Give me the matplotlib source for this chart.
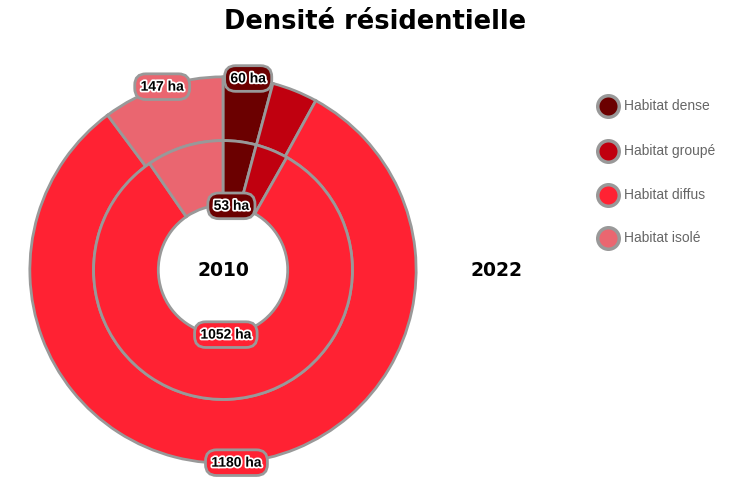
import matplotlib
matplotlib.use('Agg')
import matplotlib.pyplot as plt
import matplotlib.patheffects as pe
import numpy as np
from matplotlib.lines import Line2D

categories = ['Habitat dense', 'Habitat groupé', 'Habitat diffus', 'Habitat isolé']
colors = ['#6b0000', '#c0000f', '#ff2233', '#ea6670']
values_2010 = [53, 52, 1052, 123]
values_2022 = [60, 55, 1180, 147]
# which segments carry a value label
shown_2010 = [True, False, True, False]
shown_2022 = [True, False, True, True]
years = ['2010', '2022']

EDGE = '#999999'
W, H = 756, 480


def mid_angles(values):
    total = float(sum(values))
    cum = np.cumsum([0] + list(values)) / total * 360
    mids = (cum[:-1] + cum[1:]) / 2
    # start at top, clockwise
    return np.deg2rad(90 - mids)


def add_labels(ax, values, shown, radius):
    for v, ang, c, s in zip(values, mid_angles(values), colors, shown):
        if not s:
            continue
        x, y = radius * np.cos(ang), radius * np.sin(ang)
        t = ax.text(x, y, '{} ha'.format(v), ha='center', va='center',
                    fontsize=10, fontweight='bold', color='black',
                    family='Liberation Sans',
                    bbox=dict(boxstyle='round,pad=0.42,rounding_size=0.8',
                              fc=c, ec=EDGE, lw=2))
        t.set_path_effects([pe.withStroke(linewidth=2.5, foreground='white')])


def main():
    fig = plt.figure(figsize=(7.56, 4.8), dpi=100)
    cx, cy, R = 223, 270, 197
    ax = fig.add_axes([(cx - R) / W, (H - cy - R) / H, 2 * R / W, 2 * R / H])
    r_mid = 132 / R
    r_hole = 66 / R
    wp = dict(edgecolor=EDGE, linewidth=2)
    ax.pie(values_2022, radius=1, colors=colors, startangle=90, counterclock=False,
           wedgeprops=dict(width=1 - r_mid, **wp))
    ax.pie(values_2010, radius=r_mid, colors=colors, startangle=90, counterclock=False,
           wedgeprops=dict(width=r_mid - r_hole, **wp))
    ax.set_xlim(-1.02, 1.02)
    ax.set_ylim(-1.02, 1.02)
    ax.set_aspect('equal')
    ax.axis('off')

    add_labels(ax, values_2022, shown_2022, 1.0)
    add_labels(ax, values_2010, shown_2010, r_hole)

    fig.text(375 / W, 1 - 22 / H, 'Densité résidentielle', ha='center', va='center',
             fontsize=18.5, fontweight='bold', family='DejaVu Sans')
    fig.text(223 / W, 1 - 270 / H, years[0], ha='center', va='center',
             fontsize=13.5, fontweight='bold', family='DejaVu Sans')
    fig.text(497 / W, 1 - 270 / H, years[1], ha='center', va='center',
             fontsize=13.5, fontweight='bold', family='DejaVu Sans')

    # legend, drawn by hand
    leg_y = [106, 151, 195, 238]
    for lab, c, yy in zip(categories, colors, leg_y):
        fig.add_artist(Line2D([608 / W], [1 - yy / H], transform=fig.transFigure,
                              marker='o', ls='none', markersize=15.5,
                              markerfacecolor=c, markeredgecolor=EDGE,
                              markeredgewidth=2.5))
        fig.text(624 / W, 1 - yy / H, lab, ha='left', va='center', color='#666666',
                 fontsize=10, family='Liberation Sans')

    fig.savefig('out.png', dpi=100)


if __name__ == '__main__':
    main()
